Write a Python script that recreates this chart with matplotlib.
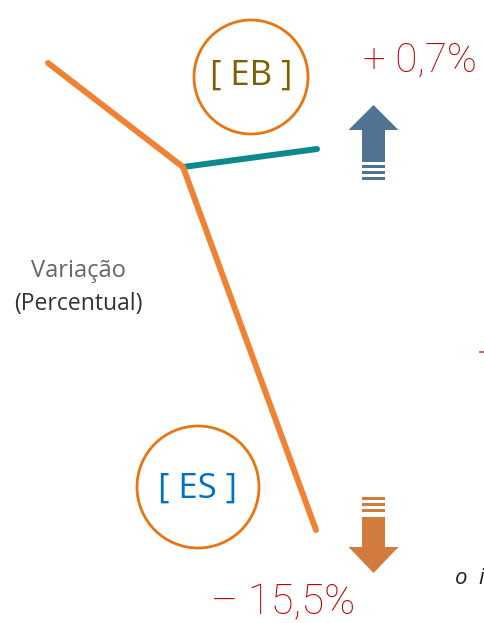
import matplotlib
matplotlib.use("Agg")
import matplotlib.pyplot as plt
from matplotlib.patches import Circle, Polygon, Rectangle

# path points of the two series (pixel space of the original slide)
orange_x = [48, 183, 316]
orange_y = [63, 167, 530]
teal_x = [183, 317]
teal_y = [167, 149]

label_eb = "[ EB ]"
label_es = "[ ES ]"
change_eb = "+ 0,7%"
change_es = "\u2013 15,5%"
axis_label = "Variação"
axis_sub = "(Percentual)"

W, H = 485, 623
fig = plt.figure(figsize=(W / 100, H / 100), dpi=100)
ax = fig.add_axes([0, 0, 1, 1])
ax.set_xlim(0, W)
ax.set_ylim(H, 0)
ax.axis("off")

ax.plot(orange_x, orange_y, color="#EF8233", lw=4.3, solid_capstyle="round",
        solid_joinstyle="miter", zorder=3)
ax.plot(teal_x, teal_y, color="#0B8A8C", lw=4.3, solid_capstyle="round", zorder=2)

# circles with labels
ax.add_patch(Circle((251, 77), 57, fill=False, ec="#E87511", lw=2.0))
ax.add_patch(Circle((198, 487), 61, fill=False, ec="#E87511", lw=2.0))
ax.text(251, 76, label_eb, ha="center", va="center", fontsize=25,
        family="Open Sans", weight="medium", color="#7F6000")
ax.text(198, 489, label_es, ha="center", va="center", fontsize=25,
        family="Open Sans", weight="medium", color="#0070C0")

# percentage labels
ax.text(420, 60, change_eb, ha="center", va="center", fontsize=29,
        family="Roboto", weight="light", color="#C00000")
ax.text(283, 603, change_es, ha="center", va="center", fontsize=30,
        family="Roboto", weight="light", color="#C00000")

ax.text(78, 271, axis_label, ha="center", va="center", fontsize=17,
        family="Open Sans", color="#666666")
ax.text(78, 304, axis_sub, ha="center", va="center", fontsize=16.5,
        family="Open Sans", color="#333333")


def block_arrow(cx, tip, head_base, shaft_end, stripes, color):
    # head triangle + shaft + three thin stripes
    ax.add_patch(Polygon([(cx, tip), (cx - 25, head_base), (cx + 25, head_base)],
                         closed=True, fc=color, ec="none"))
    top, bot = sorted([head_base, shaft_end])
    ax.add_patch(Rectangle((cx - 11.5, top), 23, bot - top, fc=color, ec="none"))
    for s in stripes:
        ax.add_patch(Rectangle((cx - 11.5, s), 23, 3, fc=color, ec="none"))


block_arrow(373.5, 105, 130, 162, [165, 171, 177], "#4F7391")
block_arrow(373.5, 573, 547, 517, [497, 503, 509], "#D27B3E")

# cut-off fragments at the right edge
ax.plot([480, 486], [352, 352], color="#B4532C", lw=1.2)
ax.text(455, 578, "o  i", ha="left", va="center", fontsize=16, style="italic",
        family="Open Sans", color="#222222")

fig.savefig("out.png", dpi=100)
